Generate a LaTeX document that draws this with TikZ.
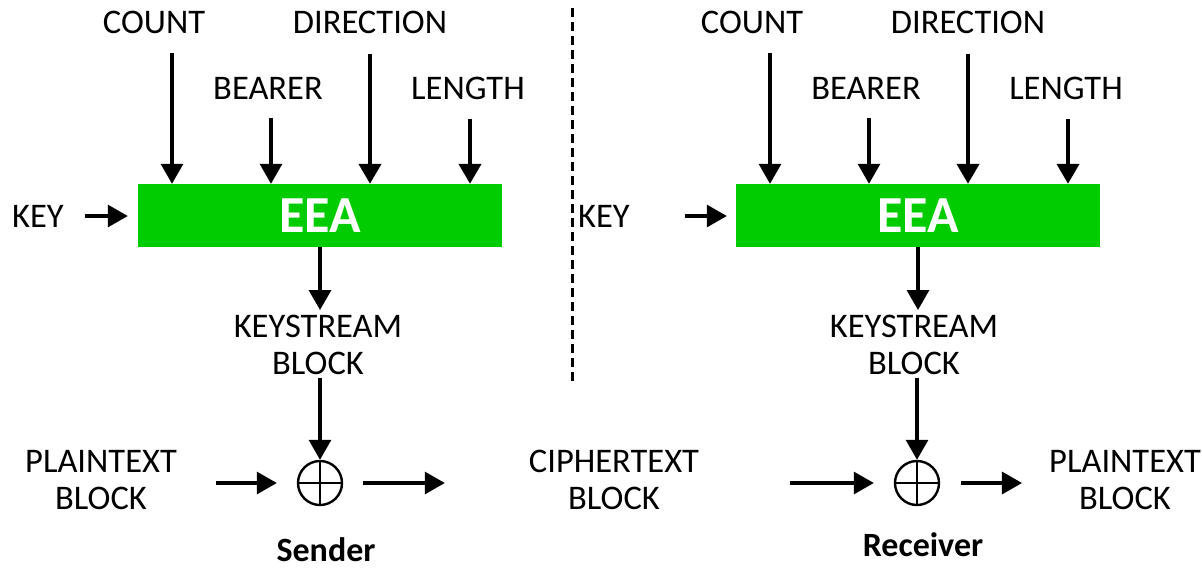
\documentclass[tikz,border=0pt]{standalone}
\usepackage{fontspec}
\setmainfont{Carlito}
\usetikzlibrary{arrows.meta,calc}
\definecolor{eeagreen}{RGB}{0,204,0}

\tikzset{
  lbl/.style={inner sep=0pt, align=center, font=\fontsize{34.5}{37}\selectfont},
  caption/.style={inner sep=0pt, font=\fontsize{34}{40}\selectfont\bfseries},
  eeabox/.style={fill=eeagreen, minimum width=364pt, minimum height=63pt, inner sep=0pt,
    text=white, font=\fontsize{52}{58}\selectfont\bfseries},
  arr/.style={line width=3.2pt, -{Triangle[width=22pt,length=20pt]}},
  fatarr/.style={arr, line width=4.2pt},
  xorop/.style={circle, draw, line width=2.4pt, minimum size=44pt, inner sep=0pt,
    path picture={\draw[line width=2.4pt]
      (path picture bounding box.north) -- (path picture bounding box.south)
      (path picture bounding box.west) -- (path picture bounding box.east);}},
}

\begin{document}
\begin{tikzpicture}[x=1pt,y=-1pt]
    \useasboundingbox (0,0) rectangle (1202,571);

    % Sender
    \node[lbl] (countS) at (154,22) {COUNT};
    \node[lbl] (dirS) at (370,22) {DIRECTION};
    \node[lbl] (bearerS) at (268,88) {BEARER};
    \node[lbl] (lenS) at (468,88) {LENGTH};
    \node[lbl] (keyS) at (38,216) {KEY};
    \node[eeabox] (eeaS) at (320,215.5) {EEA};
    \node[lbl,anchor=north] (ksS) at (318,315) {KEYSTREAM\\BLOCK};
    \node[xorop] (xorS) at (320,483) {};
    \node[lbl,anchor=north] (plainS) at (101,450) {PLAINTEXT\\BLOCK};
    \node[caption] (sender) at (326,550) {Sender};

    \draw[arr] ([shift={(18,19)}]countS.south) -- ([shift={(18,0)}]countS.south |- eeaS.north);
    \draw[arr] ([shift={(3,19)}]bearerS.south) -- ([shift={(3,0)}]bearerS.south |- eeaS.north);
    \draw[fatarr] ([shift={(0,20)}]dirS.south) -- (dirS.south |- eeaS.north);
    \draw[fatarr] ([shift={(2,19)}]lenS.south) -- ([shift={(2,0)}]lenS.south |- eeaS.north);
    \draw[arr, shorten <=21pt, shorten >=10pt] (keyS.east) -- (keyS.east -| eeaS.west);
    \draw[arr, shorten >=5pt] (eeaS.south) -- (eeaS.south |- ksS.north);
    \draw[arr, shorten <=3pt] (ksS.south -| xorS.north) -- (xorS.north);
    \draw[arr, shorten <=39pt, shorten >=20pt] (plainS.east |- xorS.west) -- (xorS.west);

    % divider
    \draw[line width=3pt, dash pattern=on 9pt off 5pt] (572,8) -- (572,385);

    \node[lbl,anchor=north] (cipher) at (614,450) {CIPHERTEXT\\BLOCK};
    \draw[arr, shorten <=20pt, shorten >=84pt] (xorS.east) -- (xorS.east -| cipher.west);

    % Receiver
    \node[lbl] (countR) at (752,22) {COUNT};
    \node[lbl] (dirR) at (968,22) {DIRECTION};
    \node[lbl] (bearerR) at (866,88) {BEARER};
    \node[lbl] (lenR) at (1066,88) {LENGTH};
    \node[lbl] (keyR) at (604,216) {KEY};
    \node[eeabox] (eeaR) at (918,215.5) {EEA};
    \node[lbl,anchor=north] (ksR) at (914,315) {KEYSTREAM\\BLOCK};
    \node[xorop] (xorR) at (917,483) {};
    \node[lbl,anchor=north] (plainR) at (1125,450) {PLAINTEXT\\BLOCK};
    \node[caption] (receiver) at (923,545) {Receiver};

    \draw[arr] ([shift={(18,19)}]countR.south) -- ([shift={(18,0)}]countR.south |- eeaR.north);
    \draw[arr] ([shift={(3,19)}]bearerR.south) -- ([shift={(3,0)}]bearerR.south |- eeaR.north);
    \draw[fatarr] ([shift={(0,20)}]dirR.south) -- (dirR.south |- eeaR.north);
    \draw[fatarr] ([shift={(2,19)}]lenR.south) -- ([shift={(2,0)}]lenR.south |- eeaR.north);
    \draw[arr, shorten <=55pt, shorten >=9pt] (keyR.east) -- (keyR.east -| eeaR.west);
    \draw[arr, shorten >=5pt] (eeaR.south) -- (eeaR.south |- ksR.north);
    \draw[arr, shorten <=3pt] (ksR.south -| xorR.north) -- (xorR.north);
    \draw[arr, shorten <=91pt, shorten >=20pt] (cipher.east |- xorR.west) -- (xorR.west);
    \draw[arr, shorten <=21pt, shorten >=27pt] (xorR.east) -- (xorR.east -| plainR.west);
\end{tikzpicture}
\end{document}
